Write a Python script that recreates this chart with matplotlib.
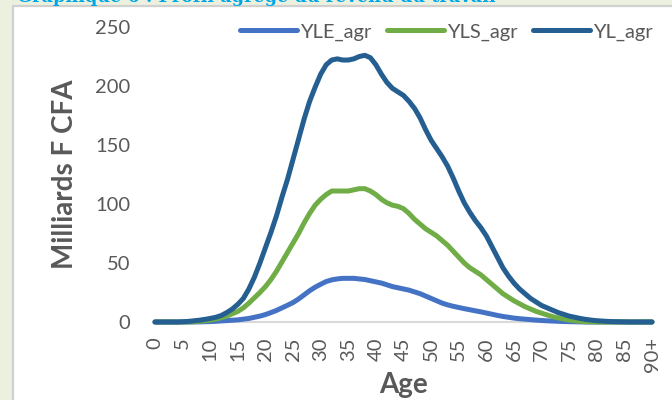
import matplotlib
matplotlib.use("Agg")
import matplotlib.pyplot as plt
from matplotlib.patches import Rectangle

plt.rcParams['font.family'] = ['Lato', 'DejaVu Sans']

# ages 0..90 (90 = "90+")
ages = list(range(91))
tick_ages = list(range(0, 91, 5))
tick_labels = [str(a) for a in range(0, 90, 5)] + ["90+"]

# YLE_agr (revenu salarial), milliards F CFA
yle = [0, 0, 0, 0, 0, 0, 0, 0, 0.1, 0.2,
       0.4, 0.6, 0.9, 1.2, 1.5, 1.8, 2.4, 3, 4, 5,
       6.3, 8, 9.8, 12, 14.2, 16.5, 19.5, 23, 26.5, 29.5,
       32, 34.3, 35.7, 36.5, 37, 37, 37, 36.5, 36, 35,
       34, 33, 31.5, 30, 29, 28, 27, 25.5, 24, 22,
       20, 18, 16, 14.5, 13.3, 12.3, 11.3, 10.4, 9.5, 8.6,
       7.6, 6.6, 5.6, 4.7, 4, 3.3, 2.8, 2.4, 2, 1.6,
       1.3, 1, 0.8, 0.6, 0.4, 0.3, 0.2, 0.1, 0, 0,
       0, 0, 0, 0, 0, 0, 0, 0, 0, 0, 0]

# YLS_agr
yls = [0, 0, 0, 0, 0, 0, 0.1, 0.3, 0.6, 1,
       1.6, 2.5, 3.6, 5, 7, 9, 12, 16, 20.5, 25,
       30, 36, 43, 51, 59, 67, 75, 84, 92, 99,
       104, 108, 111, 111, 111, 111, 112, 113, 113, 111,
       108, 104, 101, 99, 98, 96, 92, 87, 83, 79,
       76, 73, 69, 65, 60, 55, 50, 46, 43, 40,
       36, 32, 28, 24, 21, 18, 15.5, 13, 11, 9,
       7.5, 6, 4.5, 3.5, 2.5, 1.7, 1.1, 0.6, 0.3, 0.1,
       0, 0, 0, 0, 0, 0, 0, 0, 0, 0, 0]

# YL_agr
yl = [0, 0, 0, 0, 0, 0.2, 0.5, 1, 1.5, 2.2,
      3, 4, 5.5, 8, 11, 15, 20, 28, 38, 50,
      63, 76, 90, 106, 121, 138, 155, 172, 187, 199,
      210, 218, 222, 223, 222, 222, 223, 225, 226, 224,
      218, 210, 203, 198, 195, 192, 187, 181, 173, 163,
      154, 147, 140, 132, 122, 111, 101, 93, 86, 80,
      73, 64, 55, 46, 39, 33, 28, 24, 20, 17,
      14, 12, 10, 8, 6.5, 5, 4, 3, 2.2, 1.6,
      1.1, 0.8, 0.5, 0.3, 0.2, 0.1, 0, 0, 0, 0, 0]

series = [("YLE_agr", yle, "#4472c4"),
          ("YLS_agr", yls, "#70ad47"),
          ("YL_agr", yl, "#255e91")]

fig = plt.figure(figsize=(6.72, 4.0), dpi=100)
fig.patch.set_facecolor("#ebf1de")

# white chart box with grey border (behind the axes)
box = Rectangle((13 / 672, -0.01), 1.0, 1 - 6 / 400 + 0.01,
                transform=fig.transFigure, facecolor="white",
                edgecolor="#d0d0d0", linewidth=1.6, zorder=-10)
fig.add_artist(box)

# title of the figure, mostly cut off at the top edge
fig.text(17 / 672, 1 - 2.5 / 400, "Graphique 6 : Profil agrégé du revenu du travail",
         color="#00a6e8", fontsize=12.7, fontweight="bold", family="DejaVu Serif",
         va="baseline", ha="left", zorder=-5)

ax = fig.add_axes([155 / 672, 1 - 322 / 400, 497 / 672, 295 / 400])
ax.set_facecolor("none")

for name, vals, col in series:
    ax.plot(ages, vals, color=col, lw=3.6, solid_capstyle="round",
            solid_joinstyle="round", label=name, clip_on=False, zorder=3)

ax.set_xlim(0, 90)
ax.set_ylim(0, 250)
ax.set_yticks([0, 50, 100, 150, 200, 250])
ax.set_xticks(tick_ages)
ax.set_xticklabels(tick_labels, rotation=90)

for s in ["top", "right", "left"]:
    ax.spines[s].set_visible(False)
ax.spines["bottom"].set_color("#d9d9d9")
ax.spines["bottom"].set_linewidth(1.5)
ax.spines["bottom"].set_zorder(1)

ax.tick_params(axis="y", length=0, pad=18, labelsize=14.5, labelcolor="#595959")
ax.tick_params(axis="x", length=0, pad=11, labelsize=14.5, labelcolor="#595959")

ax.set_ylabel("Milliards F CFA", fontsize=20, fontweight="bold", color="#595959")
ax.yaxis.set_label_coords(-0.155, 0.5)
ax.set_xlabel("Age", fontsize=20, fontweight="bold", color="#595959")
ax.xaxis.set_label_coords(0.5, -0.17)

ax.legend(loc="center", bbox_to_anchor=(0.5865, 0.983), ncol=3, frameon=False,
          fontsize=14.5, labelcolor="#595959", handlelength=2.8,
          handletextpad=0.15, columnspacing=0.8, borderpad=0, borderaxespad=0)

fig.savefig("out.png", dpi=100, facecolor=fig.get_facecolor())
